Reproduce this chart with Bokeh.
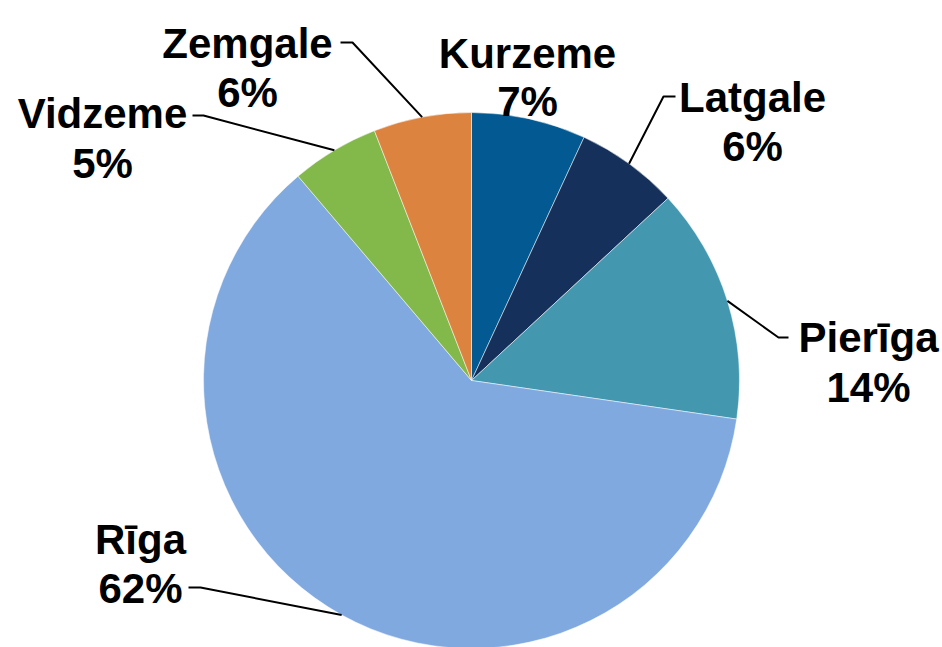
import math
from bokeh.plotting import figure
from bokeh.models import Range1d, ColumnDataSource
from bokeh.core.properties import value
from bokeh.embed import file_html
from bokeh.resources import INLINE

# ---- data ----
regions = ["Kurzeme", "Latgale", "Pierīga", "Rīga", "Vidzeme", "Zemgale"]
shares = [6.9, 6.2, 14.2, 61.5, 5.3, 5.9]
pct_labels = ["7%", "6%", "14%", "62%", "5%", "6%"]
colors = ["#035A92", "#15305A", "#4398B0", "#80A9DF", "#83B84A", "#DC843F"]

# ---- layout (screen pixels, page coords) ----
W, H = 942, 647
CX, CY, R = 471, 380, 268
# label centre x, name baseline, pct baseline
label_pos = {
    "Kurzeme": (527, 53, 101),
    "Latgale": (752, 97, 146),
    "Pierīga": (868, 337, 387),
    "Rīga": (140, 539, 588),
    "Vidzeme": (102, 113, 163),
    "Zemgale": (247, 43, 92),
}
# leader elbow and end (screen) ; None = no leader
leader_pts = {
    "Kurzeme": None,
    "Latgale": [(663, 96), (675, 96)],
    "Pierīga": [(778, 337), (788, 337)],
    "Rīga": [(200, 587), (188, 587)],
    "Vidzeme": [(203, 115), (192, 115)],
    "Zemgale": [(352, 42), (340, 42)],
}


def dy(sy):
    return H - sy


p = figure(width=942, height=647, output_backend="svg", toolbar_location=None,
           x_range=Range1d(0, 942), y_range=Range1d(0, 647), min_border=0)
p.axis.visible = False
p.grid.visible = False
p.outline_line_color = None
p.background_fill_color = "white"
p.border_fill_color = "white"

total = sum(shares)
starts, ends, mids = [], [], []
cum = 0.0
for s in shares:
    a0 = math.pi / 2 - 2 * math.pi * cum / total
    a1 = math.pi / 2 - 2 * math.pi * (cum + s) / total
    starts.append(a0)
    ends.append(a1)
    mids.append((a0 + a1) / 2)
    cum += s

src = ColumnDataSource(dict(start=starts, end=ends, color=colors,
                            x=[CX] * len(shares), y=[dy(CY)] * len(shares)))
p.wedge(x="x", y="y", radius=R, start_angle="start", end_angle="end",
        direction="clock", fill_color="color", line_color="white",
        line_width=0.5, source=src)

# leaders
for name, m in zip(regions, mids):
    pts = leader_pts[name]
    if not pts:
        continue
    xs = [CX + R * math.cos(m)] + [q[0] for q in pts]
    ys = [dy(CY) + R * math.sin(m)] + [dy(q[1]) for q in pts]
    p.line(xs, ys, line_color="black", line_width=2)

# labels
tx, ty, tt = [], [], []
for name, pct in zip(regions, pct_labels):
    cx, b1, b2 = label_pos[name]
    tx += [cx, cx]
    ty += [dy(b1), dy(b2)]
    tt += [name, pct]
p.text(x=tx, y=ty, text=tt, text_font=value("Liberation Sans"),
       text_font_style="bold", text_font_size="42px", text_align="center",
       text_baseline="alphabetic", text_color="black")

open("out.html", "w").write(file_html(p, INLINE))
